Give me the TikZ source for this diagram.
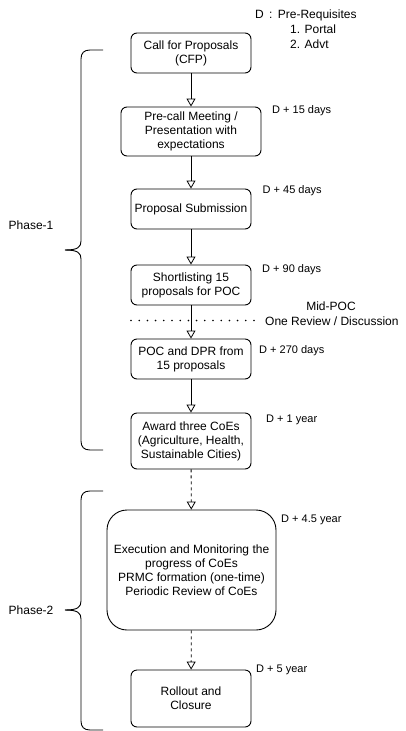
\documentclass[tikz,border=0pt]{standalone}
\usepackage{fontspec}
\setmainfont{Liberation Sans}
\usetikzlibrary{arrows.meta,positioning,calc}
\tikzset{
  box/.style={draw, rounded corners=6pt, line width=0.9pt, align=center, minimum width=120pt, minimum height=40pt, inner sep=2pt, font=\fontsize{12}{14}\selectfont},
  bigbox/.style={box, rounded corners=20pt, minimum width=169pt, minimum height=120pt},
  datelbl/.style={anchor=west, inner sep=0pt, font=\fontsize{11}{13}\selectfont},
  txt/.style={inner sep=0pt, align=left, font=\fontsize{12}{14}\selectfont},
  arr/.style={line width=0.8pt, -{Triangle[open,length=8pt,width=9pt]}},
  darr/.style={arr, dashed, dash pattern=on 3pt off 3pt},
  brace/.style={line width=0.9pt}
}
\begin{document}
\begin{tikzpicture}[x=1pt, y=-1pt]
\useasboundingbox (0,0) rectangle (406,731);
% flow boxes
\node[box] (cfp) at (191,53) {Call for Proposals\\(CFP)};
\node[box, minimum width=140pt, minimum height=49pt] (precall) at (191,131.5) {Pre-call Meeting /\\Presentation with\\expectations};
\node[box] (submit) at (191,209) {Proposal Submission};
\node[box] (short) at (191,285) {Shortlisting 15\\proposals for POC};
\node[box] (poc) at (191,359) {POC and DPR from\\15 proposals};
\node[box, minimum height=56pt] (award) at (191,441) {Award three CoEs\\(Agriculture, Health,\\Sustainable Cities)};
\node[bigbox] (exec) at (191.5,570) {Execution and Monitoring the\\progress of CoEs\\PRMC formation (one-time)\\Periodic Review of CoEs};
\node[box, minimum height=57pt] (rollout) at (191,698.5) {Rollout and\\Closure};
% connectors
\draw[arr] (cfp) -- (precall);
\draw[arr] (precall) -- (submit);
\draw[arr] (submit) -- (short);
\draw[arr] (short) -- (poc);
\draw[arr] (poc) -- (award);
\draw[darr] (award) -- (exec);
\draw[darr] (exec) -- (rollout);
% time labels
\node[datelbl] (d15) at (272,110.5) {D + 15 days};
\node[datelbl] (d45) at (262.5,190.5) {D + 45 days};
\node[datelbl] (d90) at (262,270) {D + 90 days};
\node[datelbl] (d270) at (259,350.5) {D + 270 days};
\node[datelbl] (d1y) at (266,420) {D + 1 year};
\node[datelbl] (d45y) at (281,520) {D + 4.5 year};
\node[datelbl] (d5y) at (256,670) {D + 5 year};
% pre-requisites
\node[txt, anchor=west] (prereq) at (255,15) {D \,:\, Pre-Requisites};
\node[txt, anchor=west] (portal) at (290,29.5) {1. Portal};
\node[txt, anchor=west] (advt) at (290,44.5) {2. Advt};
% mid-POC review
\coordinate (dotA) at (131,320.5);
\coordinate (dotB) at (262,320.5);
\draw[line width=1.8pt, line cap=round, dash pattern=on 0pt off 8.2pt] (dotA) -- (dotB);
\node[txt, anchor=west] (review) at (265,321.5) {One Review / Discussion};
\node[txt] (midpoc) at (331,306.5) {Mid-POC};
% phase braces
\draw[brace] (103,50) -- (90,50) .. controls (84,50) and (81,53) .. (81,59) -- (81,241) .. controls (81,247) and (78,250) .. (65,250);
\draw[brace] (65,250) .. controls (78,250) and (81,253) .. (81,259) -- (81,441) .. controls (81,447) and (84,450) .. (90,450) -- (103,450);
\node[txt] (phase1) at (31,225) {Phase-1};
\draw[brace] (103,491) -- (90,491) .. controls (84,491) and (81,494) .. (81,500) -- (81,601) .. controls (81,607) and (78,610) .. (65,610);
\draw[brace] (65,610) .. controls (78,610) and (81,613) .. (81,619) -- (81,721) .. controls (81,727) and (84,730) .. (90,730) -- (103,730);
\node[txt] (phase2) at (31,610) {Phase-2};
\end{tikzpicture}
\end{document}
